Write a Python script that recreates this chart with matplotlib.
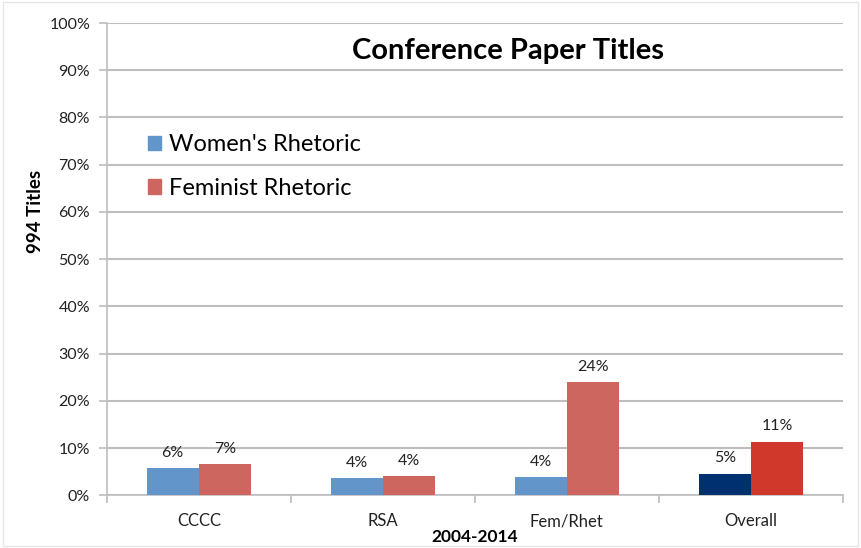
import matplotlib
matplotlib.use("Agg")
import matplotlib.pyplot as plt
import numpy as np
from matplotlib.patches import Patch

categories = ["CCCC", "RSA", "Fem/Rhet", "Overall"]
womens = [5.7, 3.6, 3.9, 4.6]
feminist = [6.6, 4.1, 24.0, 11.4]
womens_colors = ["#6295C9", "#6295C9", "#6295C9", "#003070"]
feminist_colors = ["#CD665F", "#CD665F", "#CD665F", "#D0382C"]
yticks = [0, 10, 20, 30, 40, 50, 60, 70, 80, 90, 100]

plt.rcParams['font.family'] = ['Lato', 'DejaVu Sans']

fig = plt.figure(figsize=(8.61, 5.48), dpi=100)
ax = fig.add_axes([0.124, 0.096, 0.855, 0.862])

x = np.arange(len(categories))
w = 0.283
b1 = ax.bar(x - w/2, womens, w, color=womens_colors, zorder=3)
b2 = ax.bar(x + w/2, feminist, w, color=feminist_colors, zorder=3)

for bars, vals in ((b1, womens), (b2, feminist)):
    for r, v in zip(bars, vals):
        ax.annotate(f"{v:.0f}%", (r.get_x() + r.get_width()/2, v),
                    xytext=(0, 6), textcoords="offset points",
                    ha="center", va="bottom", fontsize=11.5, color="#222222")

ax.set_xlim(-0.5, len(categories) - 0.5)
ax.set_ylim(0, 100)
ax.set_yticks(yticks)
ax.set_yticklabels([f"{t}%" for t in yticks], fontsize=11.5, color="#222222")
ax.yaxis.grid(True, color="#BEBEBE", linewidth=1.5, zorder=0)
ax.set_axisbelow(True)

ax.set_xticks(x)
ax.set_xticklabels(categories, fontsize=12, color="#222222")
ax.tick_params(axis="x", length=0, pad=13)
ax.set_xticks(np.arange(-0.5, len(categories)), minor=True)
ax.tick_params(axis="x", which="minor", length=6, color="#BEBEBE", width=1.2)
ax.tick_params(axis="y", length=6, color="#BEBEBE", width=1.2, pad=6)

for s in ["top", "right"]:
    ax.spines[s].set_visible(False)
for s in ["left", "bottom"]:
    ax.spines[s].set_color("#BEBEBE")
    ax.spines[s].set_linewidth(1.2)

ax.set_xlabel("2004-2014", fontsize=12.5, fontweight="bold", labelpad=0)
fig.text(0.041, 0.615, "994 Titles", rotation=90, ha="center", va="center",
         fontsize=13.5, fontweight="bold")

ax.text(0.545, 0.94, "Conference Paper Titles", transform=ax.transAxes,
        ha="center", va="center", fontsize=21, fontweight="bold")

handles = [Patch(color="#6295C9", label="Women's Rhetoric"),
           Patch(color="#CD665F", label="Feminist Rhetoric")]
ax.legend(handles=handles, loc="upper left", bbox_to_anchor=(0.03, 0.804),
          frameon=False, fontsize=17, handlelength=0.55, handleheight=0.55,
          handletextpad=0.35, labelspacing=0.95, borderpad=0.3)

fig.patches.append(plt.Rectangle((0.003, 0.003), 0.994, 0.994, transform=fig.transFigure,
                                 fill=False, edgecolor="#E6E6E6", linewidth=1))

fig.savefig("out.png", dpi=100)
